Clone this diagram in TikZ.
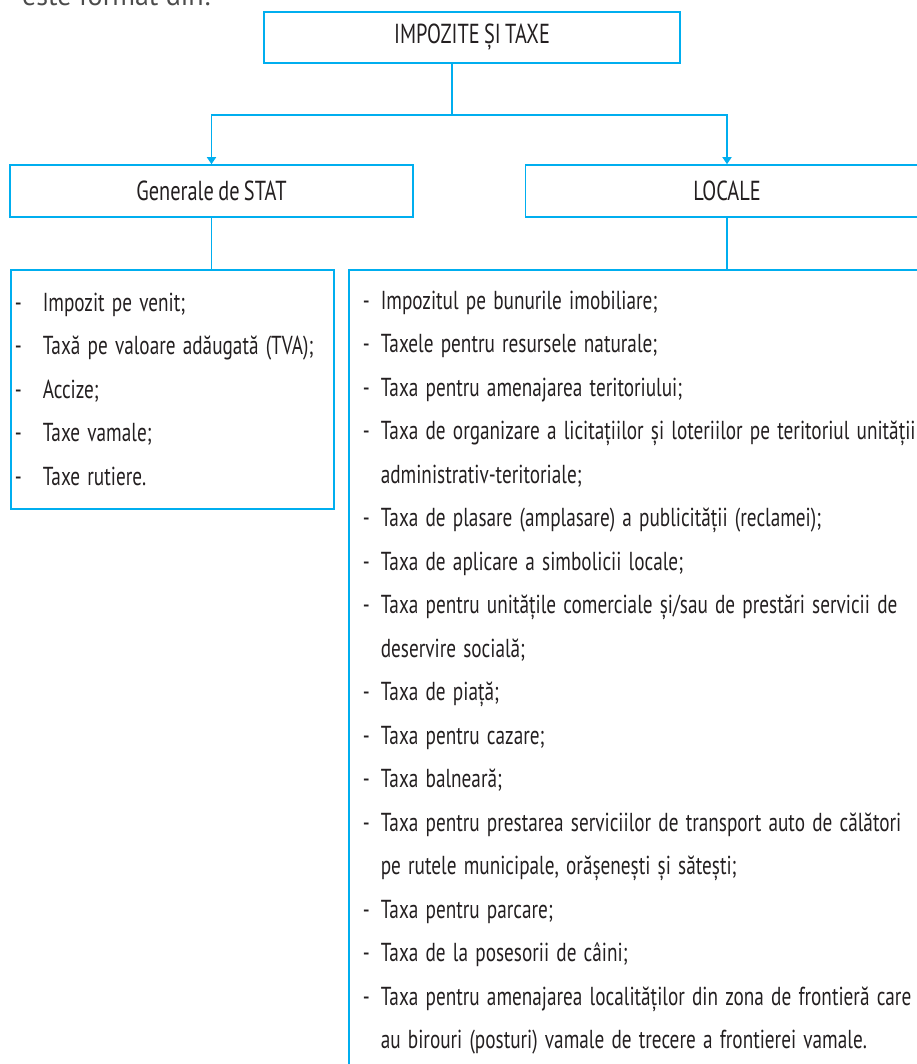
\documentclass[tikz,border=0pt]{standalone}
\usepackage{fontspec}
\setmainfont{PT Sans}[FakeStretch=0.74, WordSpace=0.8]
\newfontfamily\introfont{PT Sans}
\usepackage{tikz}
\usetikzlibrary{arrows.meta}
\usetikzlibrary{positioning}
\usepackage{color}
\definecolor{processcyan}{RGB}{0, 174, 239}
\definecolor{inkblack}{RGB}{35, 31, 32}
% list rows: dash then text, or a continued line
\newlength{\dashw}
\newcommand{\listsetup}[1]{\setlength{\dashw}{#1}\spaceskip=7.2pt\xspaceskip=7.2pt\relax}
\newcommand{\dashitem}[1]{\makebox[\dashw][l]{-}#1\\}
\newcommand{\dashmore}[1]{\hspace*{\dashw}#1\\}

\begin{document}
\begin{tikzpicture}[x=1pt, y=-1pt,
    box/.style={draw=processcyan, line width=1.6pt, text=inkblack, inner sep=0pt,
                font=\fontsize{26}{43.5}\selectfont},
    headbox/.style={box, font=\fontsize{27.5}{30}\selectfont},
    listbox/.style={box, anchor=north west, align=left},
    link/.style={draw=processcyan, line width=1.6pt},
    arr/.style={link, -{Triangle[width=9pt, length=7pt]}}]
            \useasboundingbox (0,0) rectangle (916,1064);
            % Intro line, cut by the page top
            \node[anchor=base west, inner sep=0pt, text=black!70,
                  font=\introfont\fontsize{28}{30}\selectfont] (intro) at (22,6) {este format din:};
            % Heads
            \node[headbox, minimum width=416pt, minimum height=51pt] (taxe)   at (472,37.5) {IMPOZITE ȘI TAXE};
            \node[headbox, minimum width=403pt, minimum height=52pt] (stat)   at (211.5,191) {Generale de STAT};
            \node[headbox, minimum width=403pt, minimum height=52pt] (locale) at (727,191)   {LOCALE};
            % Lists
            \node[listbox, inner xsep=4pt, text width=315pt, minimum height=239pt] (statlist) at (10,269) {%
                \listsetup{28pt}%
                \begin{tabular}{@{}l@{}}
                \dashitem{Impozit pe venit;}
                \dashitem{Taxă pe valoare adăugată (TVA);}
                \dashitem{Accize;}
                \dashitem{Taxe vamale;}
                \dashitem{Taxe rutiere.}
                \end{tabular}};
            \node[listbox, inner xsep=14pt, text width=620pt, minimum height=801pt] (localelist) at (348,269) {%
                \listsetup{18pt}%
                \begin{tabular}{@{}l@{}}
                \dashitem{Impozitul pe bunurile imobiliare;}
                \dashitem{Taxele pentru resursele naturale;}
                \dashitem{Taxa pentru amenajarea teritoriului;}
                \dashitem{Taxa de organizare a licitațiilor și loteriilor pe teritoriul unității}
                \dashmore{administrativ-teritoriale;}
                \dashitem{Taxa de plasare (amplasare) a publicității (reclamei);}
                \dashitem{Taxa de aplicare a simbolicii locale;}
                \dashitem{Taxa pentru unitățile comerciale și/sau de prestări servicii de}
                \dashmore{deservire socială;}
                \dashitem{Taxa de piață;}
                \dashitem{Taxa pentru cazare;}
                \dashitem{Taxa balneară;}
                \dashitem{Taxa pentru prestarea serviciilor de transport auto de călători}
                \dashmore{pe rutele municipale, orășenești și sătești;}
                \dashitem{Taxa pentru parcare;}
                \dashitem{Taxa de la posesorii de câini;}
                \dashitem{Taxa pentru amenajarea localităților din zona de frontieră care}
                \dashmore{au birouri (posturi) vamale de trecere a frontierei vamale.}
                \end{tabular}};
            % Connectors
            \coordinate (split) at (452,115);
            \draw[link] (taxe.south -| split) -- (split);
            \draw[arr]  (split) -| (stat.north);
            \draw[arr]  (split) -| (locale.north);
            \draw[link] (stat.south)   -- (stat.south |- statlist.north);
            \draw[link] (locale.south) -- (locale.south |- localelist.north);
\end{tikzpicture}
\end{document}
